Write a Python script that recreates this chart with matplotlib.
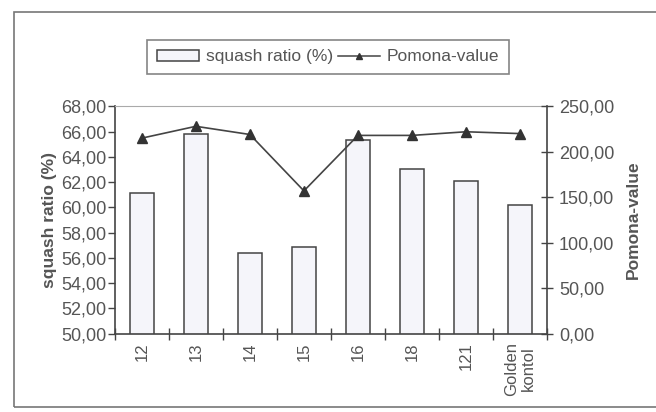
import matplotlib
matplotlib.use("Agg")
import matplotlib.pyplot as plt
from matplotlib.patches import Rectangle
from matplotlib.lines import Line2D
from matplotlib.ticker import FuncFormatter, MultipleLocator

plt.rcParams['font.family'] = ['Liberation Sans', 'DejaVu Sans']

categories = ["12", "13", "14", "15", "16", "18", "121", "Golden\nkontol"]
squash_ratio = [61.1, 65.8, 56.4, 56.85, 65.3, 63.0, 62.05, 60.15]
pomona_value = [215, 228, 219, 157, 218, 218, 222, 220]

text_c = "#555555"
axis_c = "#444444"

fig = plt.figure(figsize=(6.56, 4.12), dpi=100)
fig.patch.set_facecolor("white")

# outer frame around the whole chart
fig.patches.append(Rectangle((0.021, 0.012), 1.1, 0.958, transform=fig.transFigure,
                             fill=False, edgecolor="#777777", linewidth=1.2))

ax = fig.add_axes([0.175, 0.19, 0.659, 0.552])
x = list(range(len(categories)))
ax.bar(x, squash_ratio, width=0.44, color="#f5f5fa", edgecolor=axis_c, linewidth=1.1, zorder=2)
ax.set_ylim(50, 68)
ax.set_xlim(-0.5, len(categories) - 0.5)
ax.yaxis.set_major_locator(MultipleLocator(2))
ax.yaxis.set_major_formatter(FuncFormatter(lambda v, p: f"{v:.2f}".replace(".", ",")))
ax.set_xticks(x)
ax.set_xticklabels(categories, rotation=90, color=text_c, fontsize=12, linespacing=1.1)
ax.tick_params(axis="x", length=0, pad=6)
# category boundary ticks crossing the x axis
ax.set_xticks([i + 0.5 for i in range(-1, len(categories))], minor=True)
ax.tick_params(axis="x", which="minor", direction="inout", length=8, color=axis_c, width=1)
ax.tick_params(axis="y", direction="out", length=5, color=axis_c, width=1,
               labelcolor=text_c, labelsize=13, pad=1)
ax.set_ylabel("squash ratio (%)", fontsize=12.5, fontweight="bold", color=text_c, labelpad=3)
for s in ("left", "bottom"):
    ax.spines[s].set_color(axis_c)
    ax.spines[s].set_linewidth(1.2)
ax.spines["top"].set_color("#aaaaaa")
ax.spines["top"].set_linewidth(0.8)
ax.spines["right"].set_visible(False)

ax2 = ax.twinx()
ax2.plot(x, pomona_value, color=axis_c, linewidth=1.2, marker="^", markersize=6.5,
         markerfacecolor="#333333", markeredgecolor="#333333", zorder=3)
ax2.set_ylim(0, 250)
ax2.yaxis.set_major_locator(MultipleLocator(50))
ax2.yaxis.set_major_formatter(FuncFormatter(lambda v, p: f"{v:.2f}".replace(".", ",")))
ax2.tick_params(axis="y", direction="inout", length=9, color=axis_c, width=1,
                labelcolor=text_c, labelsize=13, pad=4)
ax2.set_ylabel("Pomona-value", fontsize=12.5, fontweight="bold", color=text_c, labelpad=8)
ax2.spines["right"].set_color(axis_c)
ax2.spines["right"].set_linewidth(1.2)
for s in ("top", "left", "bottom"):
    ax2.spines[s].set_visible(False)

handles = [Rectangle((0, 0), 1, 1, facecolor="#f5f5fa", edgecolor=axis_c, linewidth=1.1),
           Line2D([], [], color=axis_c, linewidth=1.1, marker="^", markersize=5,
                  markerfacecolor="#333333", markeredgecolor="#333333")]
leg = fig.legend(handles, ["squash ratio (%)", "Pomona-value"], loc="center",
                 bbox_to_anchor=(0.5, 0.862), ncol=2, frameon=True, fancybox=False,
                 fontsize=12.5, handlelength=2.4, handleheight=0.6, handletextpad=0.4,
                 columnspacing=0.3, borderpad=0.55)
leg.get_frame().set_edgecolor("#666666")
leg.get_frame().set_linewidth(1.2)
for t in leg.get_texts():
    t.set_color(text_c)

fig.savefig("out.png", dpi=100)
